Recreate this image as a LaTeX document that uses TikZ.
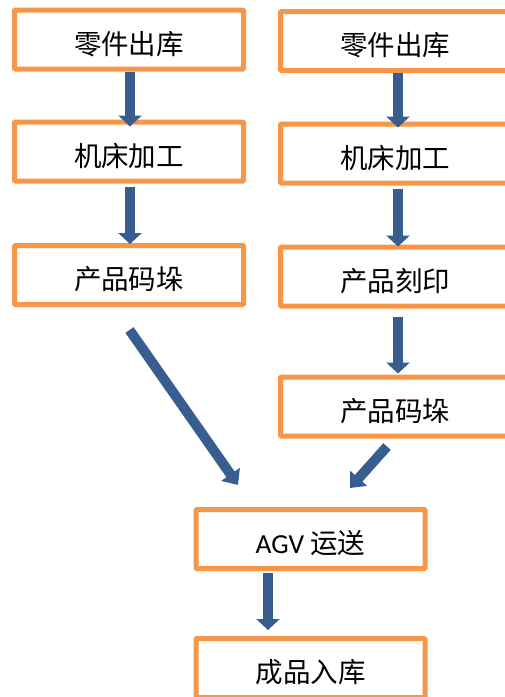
\documentclass[tikz,border=0pt]{standalone}
\usepackage{fontspec}
\setmainfont{Carlito}
\newfontfamily\cjk{Noto Sans CJK SC}
\usetikzlibrary{arrows.meta,calc}
\definecolor{boxorange}{HTML}{F79646}
\definecolor{arrowblue}{HTML}{375E8F}
\begin{document}
\begin{tikzpicture}[x=1pt,y=-1pt,
  box/.style={draw=boxorange, line width=5pt, fill=white, minimum width=229pt, minimum height=59pt, inner sep=0pt, rounded corners=1pt, font=\fontsize{27.5}{30}\selectfont\cjk, text height=29.7pt, text depth=0pt},
  flow/.style={draw=arrowblue, line width=10pt, -{Triangle[width=23pt,length=11pt]}},
  slant/.style={draw=arrowblue, line width=10pt, -{Triangle[width=22pt,length=13pt]}}]
\useasboundingbox (0,0) rectangle (505,697);
\node[box] (l1) at (129,39.5) {零件出库};
\node[box] (l2) at (129,151.5) {机床加工};
\node[box] (l3) at (129,275) {产品码垛};
\node[box] (r1) at (395,41) {零件出库};
\node[box] (r2) at (395,153.5) {机床加工};
\node[box] (r3) at (395,276.5) {产品刻印};
\node[box] (r4) at (395,406.5) {产品码垛};
\node[box] (agv) at (310.5,539) {{\rmfamily AGV} 运送};
\node[box] (out) at (310.5,668) {成品入库};
\draw[flow] ($(l1.south)+(1,0)$) -- ($(l2.north)+(1,7)$);
\draw[flow] ($(l2.south)+(1,3)$) -- ($(l3.north)+(1,1)$);
\draw[flow] ($(r1.south)+(3,0)$) -- ($(r2.north)+(3,6)$);
\draw[flow] ($(r2.south)+(3,3)$) -- ($(r3.north)+(3,2)$);
\draw[flow] ($(r3.south)+(3,8)$) -- ($(r4.north)+(3,-1)$);
\draw[flow] ($(agv.south)+(-42.5,2)$) -- ($(out.north)+(-42.5,-6)$);
\draw[slant] ($(l3.south)+(0.5,23)$) -- ($(agv.north)+(-72.5,-22)$);
\draw[slant] ($(r4.south)+(-8,8)$) -- ($(agv.north)+(39.5,-19)$);
\end{tikzpicture}
\end{document}
